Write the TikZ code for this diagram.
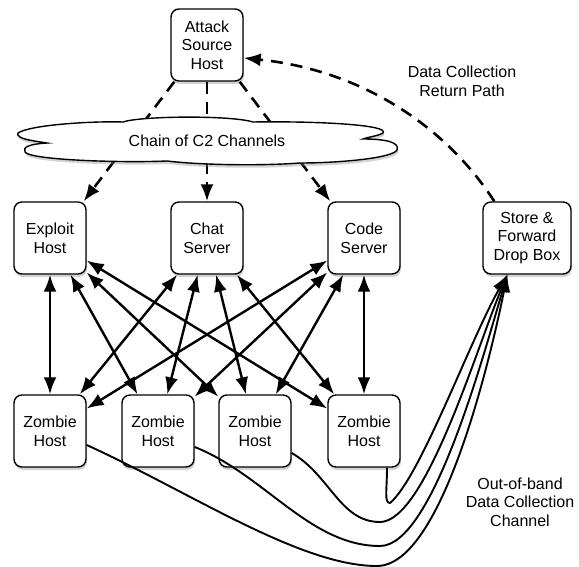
\documentclass[tikz,border=0pt]{standalone}
\usepackage{fontspec}
\setmainfont{Liberation Sans}
\usetikzlibrary{arrows.meta,shadows}

\begin{document}
\begin{tikzpicture}[x=1pt, y=-1pt,
    font=\fontsize{16}{18.7}\selectfont,
    tip/.style={Latex[length=17pt,width=13pt]},
    box/.style={draw, line width=1.4pt, rounded corners=8pt, fill=white, align=center,
        minimum width=72pt, minimum height=72pt, inner sep=2pt,
        drop shadow={shadow xshift=1pt, shadow yshift=-3pt, opacity=0.35}},
    link/.style={{Latex[length=17pt,width=13pt]}-{Latex[length=17pt,width=13pt]}, line width=2.4pt},
    ctrl/.style={-{Latex[length=17pt,width=13pt]}, line width=2.6pt, dash pattern=on 12pt off 8pt},
    feed/.style={-{Latex[length=17pt,width=13pt]}, line width=1.9pt}]
    \useasboundingbox (0,0) rectangle (579,567);
    \node[box] (attack) at (207,45) {Attack\\Source\\Host};
    \node[box] (exploit) at (50,238) {Exploit\\Host};
    \node[box] (chat) at (207,238) {Chat\\Server};
    \node[box] (code) at (364,238) {Code\\Server};
    \node[box, minimum width=88pt] (store) at (527,238) {Store \&\\Forward\\Drop Box};
    \node[box] (z1) at (50,431) {Zombie\\Host};
    \node[box] (z2) at (158,431) {Zombie\\Host};
    \node[box] (z3) at (255,431) {Zombie\\Host};
    \node[box] (z4) at (364,431) {Zombie\\Host};
    \draw[ctrl] ([xshift=4pt]attack.south west) -- ([xshift=-3pt]exploit.north east);
    \draw[ctrl] (attack.south) -- (chat.north);
    \draw[ctrl] ([xshift=-4pt]attack.south east) -- ([xshift=3pt]code.north west);
    \path[draw, fill=white, line width=1.4pt,
        drop shadow={shadow xshift=1pt, shadow yshift=-3pt, opacity=0.35}]
        (18,133) .. controls (30,125) and (90,121) .. (123,122)
        .. controls (140,116) and (230,115) .. (253,122)
        .. controls (320,121) and (390,125) .. (383,133)
        .. controls (378,136) and (368,137) .. (363,139)
        .. controls (385,139) and (400,142) .. (397,150)
        .. controls (393,158) and (340,163) .. (300,163)
        .. controls (260,166) and (200,165) .. (167,161)
        .. controls (120,163) and (30,160) .. (25,152)
        .. controls (22,147) and (30,144) .. (47,143)
        .. controls (35,141) and (15,139) .. cycle;
    \node (c2) at (207,141) {Chain of C2 Channels};
    \foreach \s in {exploit,chat,code}
        \foreach \z in {z1,z2,z3,z4}
            \draw[link] (\s) -- (\z);
    \draw[feed] ([yshift=-14pt]z1.east) .. controls (190,492) and (300,566) .. (377,566)
        .. controls (440,566) and (488,370) .. ([xshift=25pt]store.south west);
    \draw[feed] ([yshift=-16pt]z2.east) .. controls (265,475) and (310,546) .. (380,546)
        .. controls (432,546) and (482,360) .. ([xshift=25pt]store.south west);
    \draw[feed] ([yshift=-22pt]z3.east) .. controls (330,475) and (340,522) .. (380,522)
        .. controls (425,522) and (476,350) .. ([xshift=25pt]store.south west);
    \draw[feed] ([xshift=23pt]z4.south) .. controls (387,490) and (384,503) .. (390,503)
        .. controls (420,478) and (470,340) .. ([xshift=25pt]store.south west);
    \draw[ctrl] ([xshift=12pt]store.north west)
        .. controls (445,125) and (360,70) .. ([yshift=-13pt]attack.east);
    \node[align=center] (ret) at (462,81) {Data Collection\\Return Path};
    \node[align=center] (oob) at (520,502) {Out-of-band\\Data Collection\\Channel};
\end{tikzpicture}
\end{document}
